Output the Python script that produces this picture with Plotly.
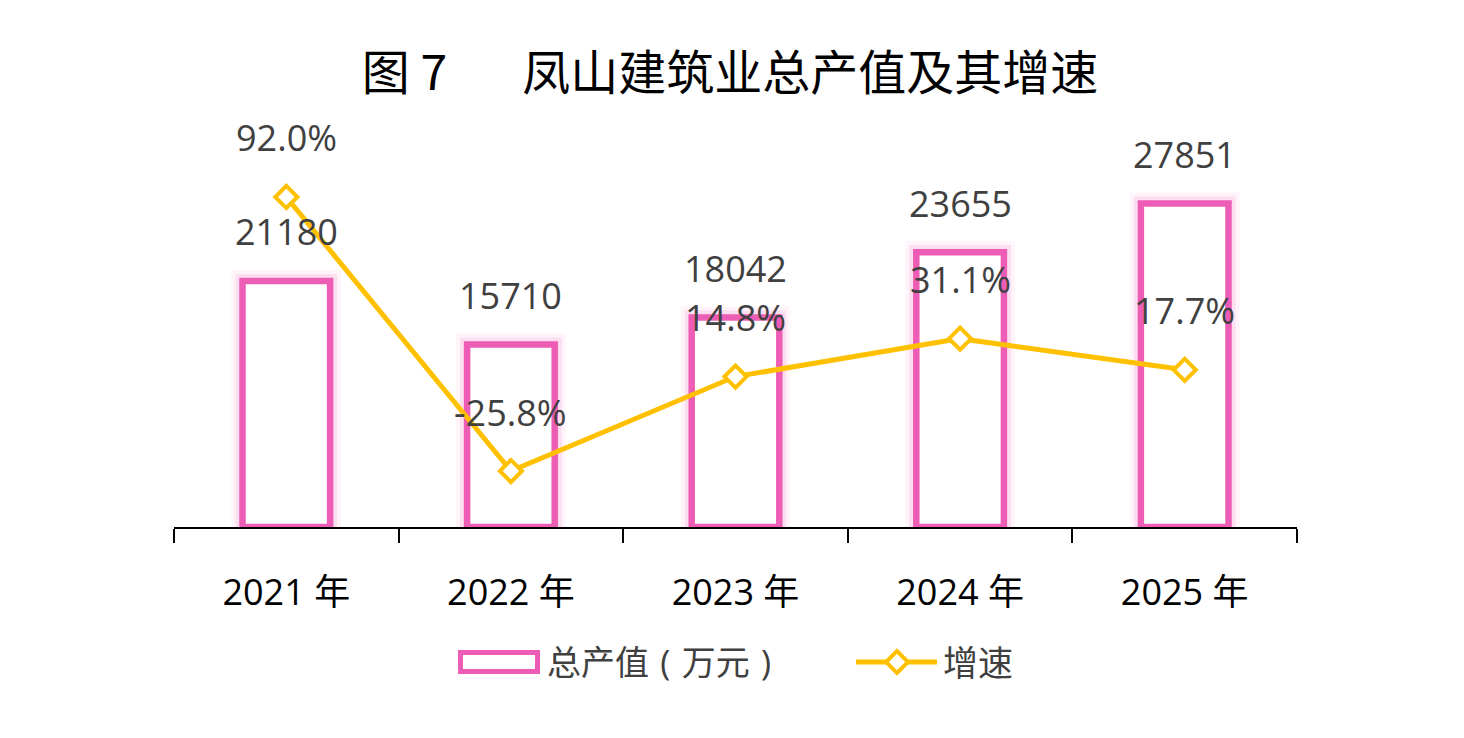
import plotly.graph_objects as go

# data
years = ["2021 年", "2022 年", "2023 年", "2024 年", "2025 年"]
output_value = [21180, 15710, 18042, 23655, 27851]   # 总产值（万元）
growth_rate = [92.0, -25.8, 14.8, 31.1, 17.7]         # 增速 %

pink = "#EE5DB5"
gold = "#FFC000"
label_grey = "#404040"
font_family = "Open Sans, Noto Sans CJK SC, sans-serif"

W, H = 1464, 738
OFF = 8  # page body margin, figure sits 8px down/right

# plot area in page pixels
left, right, top, bottom = 174, 1297, 120, 527


def px(x):
    return (x - left) / (right - left)


def py(y):
    return (bottom - y) / (bottom - top)


fig = go.Figure()

# soft glow behind the bars
for w, a in [(22, 0.07), (14, 0.14)]:
    fig.add_trace(go.Bar(
        x=years, y=output_value, width=0.39,
        marker=dict(color="rgba(0,0,0,0)", line=dict(color=f"rgba(238,93,181,{a})", width=w)),
        showlegend=False, hoverinfo="skip"
    ))

fig.add_trace(go.Bar(
    x=years, y=output_value, width=0.39, name="总产值（万元）",
    marker=dict(color="white", line=dict(color=pink, width=6.5)),
    showlegend=False
))

fig.add_trace(go.Scatter(
    x=years, y=growth_rate, yaxis="y2", name="增速", mode="lines+markers",
    line=dict(color=gold, width=5),
    marker=dict(symbol="diamond", size=17, color="white", line=dict(color=gold, width=4)),
    showlegend=False
))

annotations = []
for yr, v in zip(years, output_value):
    annotations.append(dict(x=yr, y=v, xref="x", yref="y", text=str(v), showarrow=False,
                            yshift=49, font=dict(size=36, color=label_grey, family=font_family)))
for yr, v in zip(years, growth_rate):
    annotations.append(dict(x=yr, y=v, xref="x", yref="y2", text=f"{v:.1f}%", showarrow=False,
                            yshift=59, font=dict(size=36, color=label_grey, family=font_family)))

# legend drawn by hand (brackets centred in their cells like the original font)
annotations.append(dict(x=px(545), y=py(662), xref="paper", yref="paper",
                        text="总产值\u2004(\u2004万元\u2004)",
                        showarrow=False, xanchor="left", yanchor="middle",
                        font=dict(size=34, color=label_grey, family=font_family)))
annotations.append(dict(x=px(941), y=py(662), xref="paper", yref="paper", text="增速",
                        showarrow=False, xanchor="left", yanchor="middle",
                        font=dict(size=35, color=label_grey, family=font_family)))

dx, dy = 11 / (right - left), 11 / (bottom - top)
cx, cy = px(897), py(662)
diamond = f"M {cx - dx},{cy} L {cx},{cy + dy} L {cx + dx},{cy} L {cx},{cy - dy} Z"

shapes = [
    dict(type="rect", xref="paper", yref="paper", x0=px(460.5), x1=px(537.5), y0=py(671.5), y1=py(652.5),
         line=dict(color=pink, width=5), fillcolor="white"),
    dict(type="line", xref="paper", yref="paper", x0=px(856), x1=px(937), y0=py(662), y1=py(662),
         line=dict(color=gold, width=5)),
    dict(type="path", xref="paper", yref="paper", path=diamond,
         line=dict(color=gold, width=4), fillcolor="white"),
]

fig.update_layout(
    width=W, height=H,
    margin=dict(l=left - OFF, r=W - right + OFF, t=top - OFF, b=H - bottom + OFF),
    paper_bgcolor="white", plot_bgcolor="white",
    barmode="overlay",
    showlegend=False,
    title=dict(text="图 7\u00a0\u00a0\u00a0\u00a0\u00a0\u00a0\u00a0凤山建筑业总产值及其增速",
               x=(730 - OFF) / W, xanchor="center", y=1 - (73 - OFF) / H, yanchor="middle",
               font=dict(size=48, color="black", family="Noto Sans CJK SC, sans-serif")),
    xaxis=dict(showline=True, linecolor="black", linewidth=2, ticks="outside", tickson="boundaries",
               ticklen=14, tickwidth=2, tickcolor="black", showgrid=False, ticklabelstandoff=33,
               tickfont=dict(size=36, color="black", family=font_family)),
    yaxis=dict(range=[0, 35040], visible=False, showgrid=False, zeroline=False),
    yaxis2=dict(range=[-49.87, 125.1], overlaying="y", visible=False, showgrid=False, zeroline=False),
    annotations=annotations,
    shapes=shapes,
)

fig.write_html("out.html")
